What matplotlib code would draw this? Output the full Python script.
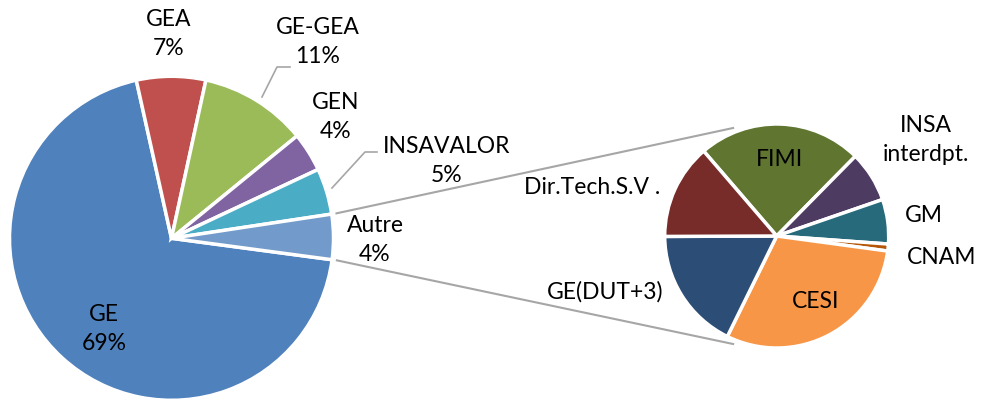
import numpy as np
import matplotlib
matplotlib.use("Agg")
import matplotlib.pyplot as plt

# ---- data ----
main_labels = ["GE", "GEA", "GE-GEA", "GEN", "INSAVALOR", "Autre"]
main_values = [69.4, 6.9, 10.7, 3.9, 4.6, 4.5]
main_pct = ["69%", "7%", "11%", "4%", "5%", "4%"]
main_colors = ["#4F81BD", "#C0504D", "#9BBB59", "#8064A2", "#4BACC6", "#729ACA"]

sub_labels = ["FIMI", "INSA\ninterdpt.", "GM", "CNAM", "CESI", "GE(DUT+3)", "Dir.Tech.S.V ."]
sub_values = [23.6, 7.3, 6.4, 1.0, 30.0, 17.6, 13.7]
sub_colors = ["#5F7530", "#4D3B62", "#276A7C", "#B65708", "#F79646", "#2C4D75", "#772C2A"]

W, H = 984, 403
fig = plt.figure(figsize=(W / 100, H / 100), dpi=100)
ax = fig.add_axes([0, 0, 1, 1])

FONT = "Lato"
FS = 16.5
LS = 1.5

# main pie
c1 = (171.5, H - 238.3)
r1 = 162
autre_frac = main_values[-1] / sum(main_values) * 360
start1 = -autre_frac / 2 + 0.5
ax.pie(main_values, colors=main_colors, center=c1, radius=r1, startangle=start1,
       counterclock=False, frame=True,
       wedgeprops=dict(edgecolor="white", linewidth=2.5))

# secondary pie
c2 = (776.7, H - 236)
r2 = 112
start2 = 130.7
ax.pie(sub_values, colors=sub_colors, center=c2, radius=r2, startangle=start2,
       counterclock=False, frame=True,
       wedgeprops=dict(edgecolor="white", linewidth=2.5))
ax.set_xlim(0, W)
ax.set_ylim(0, H)
ax.set_aspect("equal")
ax.axis("off")

# connector lines
gray = "#A6A6A6"
for a1, a2 in [(start1 + autre_frac, 112), (start1, 248)]:
    p1 = (c1[0] + r1 * 1.03 * np.cos(np.radians(a1)), c1[1] + r1 * 1.03 * np.sin(np.radians(a1)))
    p2 = (c2[0] + r2 * 1.04 * np.cos(np.radians(a2)), c2[1] + r2 * 1.04 * np.sin(np.radians(a2)))
    ax.plot([p1[0], p2[0]], [p1[1], p2[1]], color=gray, lw=1.5, zorder=0)

# main labels (pixel positions, y from top)
main_pos = {
    "GE": (104, 329),
    "GEA": (169, 34),
    "GE-GEA": (318, 42),
    "GEN": (336, 117),
    "INSAVALOR": (447, 161),
    "Autre": (375, 240),
}
for lab, p in zip(main_labels, main_pct):
    x, y = main_pos[lab]
    ax.text(x, H - y, f"{lab}\n{p}", ha="center", va="center", fontsize=FS,
            family=FONT, linespacing=LS, color="black")

# leader lines
ax.plot([290, 277, 262], [H - 67, H - 67, H - 97], color=gray, lw=1.2)
ax.plot([377, 365, 332], [H - 152, H - 152, H - 188], color=gray, lw=1.2)

# secondary labels
sub_pos = {
    "FIMI": (780, 159),
    "INSA\ninterdpt.": (926, 140),
    "GM": (924, 215),
    "CNAM": (942, 257),
    "CESI": (816, 301),
    "GE(DUT+3)": (605, 292),
    "Dir.Tech.S.V .": (592, 187),
}
for lab in sub_labels:
    x, y = sub_pos[lab]
    ax.text(x, H - y, lab, ha="center", va="center", fontsize=FS,
            family=FONT, linespacing=LS, color="black")

fig.savefig("out.png", dpi=100, facecolor="white")
